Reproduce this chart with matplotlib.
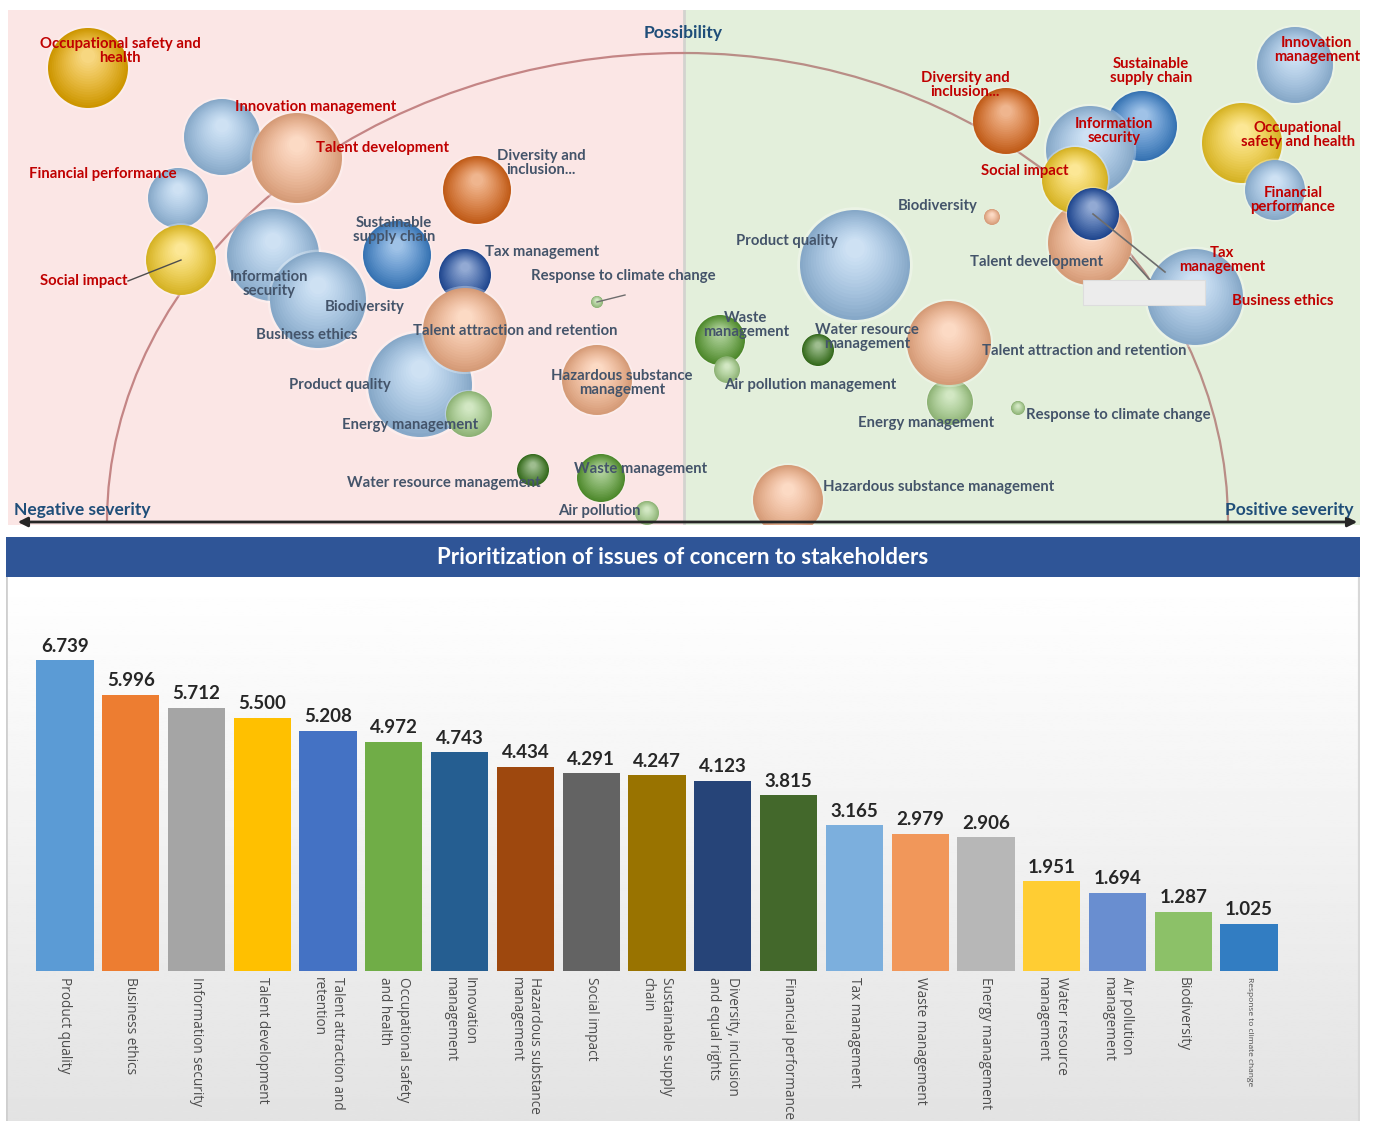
import numpy as np
import matplotlib.pyplot as plt
from matplotlib.patches import Circle, Rectangle, Arc
from matplotlib.colors import to_rgb

W, H = 1373, 1121

# bubble palette
BUB = {
    'gold': '#eeae00', 'yellow': '#f8cf2a', 'lblue': '#9cc3e8', 'peach': '#f8b48a',
    'orange': '#df6a1c', 'mblue': '#3f85cf', 'dblue': '#2553a6', 'green': '#5a9e32',
    'dgreen': '#3c7a1f', 'lgreen': '#a4cf88',
}

# negative side bubbles: severity (x), possibility (y), size (radius)
neg_x = [-4.62, -3.87, -5.06, -5.03, -5.96, -4.11, -3.66, -2.64, -2.87, -2.07,
         -2.19, -2.19, -2.15, -0.87, -0.87, -1.51, -0.83, -0.37]
neg_y = [3.85, 3.64, 3.24, 2.62, 4.54, 2.67, 2.22, 1.37, 2.67, 3.32,
         2.47, 1.92, 1.08, 1.42, 2.20, 0.52, 0.44, 0.09]
neg_r = [0.38, 0.45, 0.30, 0.35, 0.40, 0.46, 0.48, 0.52, 0.34, 0.34,
         0.26, 0.42, 0.23, 0.35, 0.06, 0.16, 0.24, 0.12]
neg_c = ['lblue', 'peach', 'lblue', 'yellow', 'gold', 'lblue', 'lblue', 'lblue', 'mblue', 'orange',
         'dblue', 'peach', 'lgreen', 'peach', 'lgreen', 'dgreen', 'green', 'lgreen']

# positive side bubbles
pos_x = [1.71, 0.36, 0.43, 1.34, 2.66, 2.65, 3.34, 1.04, 3.08, 3.22,
         4.58, 4.06, 4.06, 3.91, 4.09, 5.11, 6.11, 5.58, 5.91]
pos_y = [2.57, 1.82, 1.52, 1.72, 1.20, 1.79, 1.14, 0.22, 3.05, 4.01,
         3.96, 3.72, 2.79, 3.42, 3.08, 2.25, 4.57, 3.79, 3.32]
pos_r = [0.55, 0.25, 0.13, 0.16, 0.23, 0.42, 0.07, 0.35, 0.08, 0.33,
         0.35, 0.44, 0.42, 0.33, 0.26, 0.48, 0.38, 0.40, 0.30]
pos_c = ['lblue', 'green', 'lgreen', 'dgreen', 'lgreen', 'peach', 'lgreen', 'peach', 'peach', 'orange',
         'mblue', 'lblue', 'peach', 'yellow', 'dblue', 'lblue', 'lblue', 'yellow', 'lblue']

# bubble captions (red = highlighted issues)
red_text = ['Occupational safety and\nhealth', 'Innovation management', 'Talent development',
            'Financial performance', 'Social impact',
            'Diversity and\ninclusion...', 'Sustainable\nsupply chain', 'Innovation\nmanagement',
            'Information\nsecurity', 'Occupational\nsafety and health', 'Social impact',
            'Financial\nperformance', 'Tax\nmanagement', 'Business ethics']
red_xy = [(-5.64, 4.71), (-3.68, 4.15), (-3.01, 3.74), (-5.81, 3.48), (-6.00, 2.41),
          (2.81, 4.37), (4.67, 4.51), (6.33, 4.72), (4.30, 3.91), (6.14, 3.87), (3.41, 3.51),
          (6.09, 3.22), (5.38, 2.62), (5.99, 2.21)]
grey_text = ['Diversity and\ninclusion...', 'Sustainable\nsupply chain', 'Tax management',
             'Response to climate change', 'Information\nsecurity', 'Biodiversity', 'Business ethics',
             'Talent attraction and retention', 'Hazardous substance\nmanagement', 'Product quality',
             'Energy management', 'Water resource management', 'Waste management', 'Air pollution',
             'Biodiversity', 'Product quality', 'Talent development', 'Waste\nmanagement',
             'Water resource\nmanagement', 'Talent attraction and retention', 'Air pollution management',
             'Energy management', 'Response to climate change', 'Hazardous substance management']
grey_xy = [(-1.43, 3.59), (-2.90, 2.92), (-1.42, 2.70), (-0.61, 2.46), (-4.15, 2.38), (-3.19, 2.15),
           (-3.77, 1.87), (-1.69, 1.91), (-0.62, 1.39), (-3.44, 1.37), (-2.74, 0.97), (-2.40, 0.39),
           (-0.43, 0.53), (-0.85, 0.11),
           (2.54, 3.16), (1.03, 2.81), (3.53, 2.60), (0.62, 1.97), (1.83, 1.85), (4.00, 1.71),
           (1.26, 1.37), (2.42, 0.99), (4.34, 1.07), (2.55, 0.35)]

# stakeholder priority scores
issues = ['Product quality', 'Business ethics', 'Information security', 'Talent development',
          'Talent attraction and\nretention', 'Occupational safety\nand health', 'Innovation\nmanagement',
          'Hazardous substance\nmanagement', 'Social impact', 'Sustainable supply\nchain',
          'Diversity, inclusion\nand equal rights', 'Financial performance', 'Tax management',
          'Waste management', 'Energy management', 'Water resource\nmanagement',
          'Air pollution\nmanagement', 'Biodiversity', 'Response to climate change']
scores = [6.739, 5.996, 5.712, 5.500, 5.208, 4.972, 4.743, 4.434, 4.291, 4.247,
          4.123, 3.815, 3.165, 2.979, 2.906, 1.951, 1.694, 1.287, 1.025]
bar_colors = ['#5b9bd5', '#ed7d31', '#a5a5a5', '#ffc000', '#4472c4', '#70ad47', '#255e91',
              '#9e480e', '#636363', '#997300', '#264478', '#43682b', '#7cafdd', '#f1975a',
              '#b7b7b7', '#ffcd33', '#698ed0', '#8cc168', '#327dc2']

FONT = 'Lato'


def fig_rect(x0, y0, x1, y1):
    return [x0 / W, 1 - y1 / H, (x1 - x0) / W, (y1 - y0) / H]


def bubble(ax, x, y, r, color, z, n=18):
    base = np.array(to_rgb(color))
    ax.add_patch(Circle((x, y), r * 1.05, fc='white', alpha=0.3, lw=0, zorder=z))
    for k in range(n):
        t = k / (n - 1)
        col = np.clip(base * (0.86 + 0.14 * t) * (1 - 0.5 * t) + 0.5 * t, 0, 1)
        ax.add_patch(Circle((x, y + 0.3 * r * t), r * (1 - 0.82 * t), fc=col, lw=0, zorder=z))


fig = plt.figure(figsize=(W / 100, H / 100), dpi=100)

# ---- bubble map ----
ax = fig.add_axes(fig_rect(8, 10, 1360, 525))
ax.set_xlim(-6.76, 6.76)
ax.set_ylim(-0.03, 5.12)
ax.axis('off')
ax.add_patch(Rectangle((-6.76, -0.03), 6.76, 5.15, fc='#fbe6e5', lw=0, zorder=0))
ax.add_patch(Rectangle((0, -0.03), 6.76, 5.15, fc='#e3efdb', lw=0, zorder=0))
ax.plot([0, 0], [-0.03, 5.12], color='#d3d3cf', lw=2, zorder=0.5)

ax.add_patch(Arc((0, 0), 2 * 5.77, 2 * 4.69, theta1=90, theta2=180, color='#c48585', lw=1.6, zorder=1))
ax.add_patch(Arc((0, 0), 2 * 5.44, 2 * 4.69, theta1=0, theta2=90, color='#b98d86', lw=1.6, zorder=1))

z = 2
for xs, ys, rs, cs in [(neg_x, neg_y, neg_r, neg_c), (pos_x, pos_y, pos_r, pos_c)]:
    for x, y, r, c in zip(xs, ys, rs, cs):
        bubble(ax, x, y, r, BUB[c], z)
        z += 0.01

# leader lines
ax.plot([-5.56, -5.03], [2.41, 2.62], color='#4d4d4d', lw=1, zorder=3)
ax.plot([-0.87, -0.59], [2.20, 2.27], color='#6d6d6d', lw=1, zorder=3)
ax.plot([4.09, 4.81], [3.08, 2.50], color='#6d6d6d', lw=1.2, zorder=3)
ax.plot([4.46, 4.66], [2.64, 2.42], color='#6d6d6d', lw=1.2, zorder=3)
ax.add_patch(Rectangle((3.99, 2.17), 1.22, 0.25, fc='#ececec', ec='#dddddd', lw=0.8, zorder=3))

for s, (x, y) in zip(red_text, red_xy):
    ax.text(x, y, s, color='#c00000', fontsize=10.7, fontweight='bold', family=FONT,
            ha='center', va='center', linespacing=1.0, zorder=5)
for s, (x, y) in zip(grey_text, grey_xy):
    ax.text(x, y, s, color='#44546a', fontsize=10.7, fontweight='bold', family=FONT,
            ha='center', va='center', linespacing=1.0, zorder=5)

ax.annotate('', xy=(-6.69, 0), xytext=(6.76, 0), annotation_clip=False,
            arrowprops=dict(arrowstyle='<|-|>', color='#262626', lw=2, mutation_scale=14), zorder=6)
ax.text(-0.01, 4.89, 'Possibility', color='#1f4e79', fontsize=12.5, fontweight='bold',
        family=FONT, ha='center', va='center', zorder=6)
ax.text(-6.02, 0.12, 'Negative severity', color='#1f4e79', fontsize=12.5, fontweight='bold',
        family=FONT, ha='center', va='center', zorder=6)
ax.text(6.05, 0.12, 'Positive severity', color='#1f4e79', fontsize=12.5, fontweight='bold',
        family=FONT, ha='center', va='center', zorder=6)

# ---- bar panel background ----
bg = fig.add_axes(fig_rect(6, 577, 1360, 1121))
grad = np.linspace(1.0, 0.89, 256)[:, None] * np.ones((1, 2))
bg.imshow(grad, cmap='gray', vmin=0, vmax=1, aspect='auto', extent=(0, 1, 0, 1))
bg.axvline(0.0, color='#cfcfcf', lw=2)
bg.axvline(1.0, color='#d8d8d8', lw=3)
bg.set_xlim(0, 1)
bg.set_ylim(0, 1)
bg.axis('off')

banner = fig.add_axes(fig_rect(6, 537, 1360, 577))
banner.set_facecolor('#2f5597')
banner.set_xticks([])
banner.set_yticks([])
for sp in banner.spines.values():
    sp.set_visible(False)
banner.text(0.5, 0.5, 'Prioritization of issues of concern to stakeholders', color='white',
            fontsize=16, fontweight='bold', family=FONT, ha='center', va='center',
            transform=banner.transAxes)

# ---- bar chart ----
bx = fig.add_axes(fig_rect(32, 600, 1282, 971))
bx.patch.set_alpha(0)
pos = np.arange(len(scores))
bx.bar(pos, scores, width=0.87, color=bar_colors)
for p, v in zip(pos, scores):
    bx.text(p, v + 0.12, f'{v:.3f}', ha='center', va='bottom', fontsize=13.5,
            fontweight='bold', family=FONT, color='#262626')
bx.set_xlim(-0.5, len(scores) - 0.5)
bx.set_ylim(0, 8.05)
bx.set_yticks([])
for sp in bx.spines.values():
    sp.set_visible(False)
bx.set_xticks(pos)
bx.set_xticklabels(issues, rotation=270, family='Open Sans', fontsize=9.8, color='#4d4d4d',
                   ha='center', va='top', multialignment='left', linespacing=1.35)
bx.get_xticklabels()[-1].set_fontsize(6)
bx.tick_params(axis='x', length=0, pad=4)

fig.savefig('out.png', dpi=100)
